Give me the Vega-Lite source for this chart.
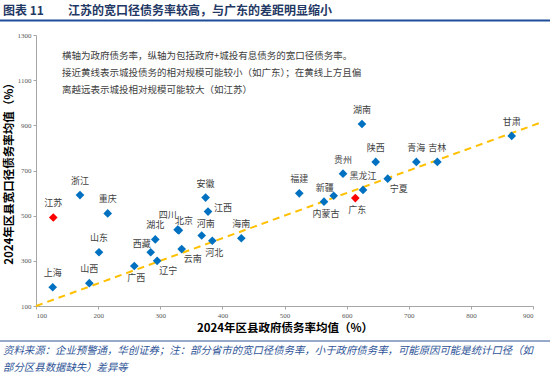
{
  "$schema": "https://vega.github.io/schema/vega-lite/v6.json",
  "width": 497,
  "height": 271,
  "autosize": {"type": "none"},
  "padding": {"left": 36, "top": 35, "right": 17, "bottom": 74},
  "background": "white",
  "title": {
    "text": "图表 11\u3000\u3000江苏的宽口径债务率较高，与广东的差距明显缩小",
    "anchor": "start",
    "frame": "group",
    "dx": -33,
    "offset": 2,
    "font": "Noto Sans CJK SC",
    "fontSize": 12,
    "fontWeight": "bold",
    "color": "#1F3864"
  },
  "config": {
    "view": {"stroke": null},
    "font": "Noto Sans CJK SC",
    "axis": {
      "grid": false,
      "labelFont": "Liberation Serif",
      "labelFontSize": 7,
      "labelColor": "#595959",
      "tickColor": "#a6a6a6",
      "domainColor": "#a6a6a6",
      "tickSize": 3,
      "format": "d",
      "titleFont": "Noto Sans CJK SC",
      "titleFontSize": 11.5,
      "titleFontWeight": "bold",
      "titleColor": "#000000"
    }
  },
  "datasets": {
    "pts": [
      {"name": "江苏", "gov": 127.8, "wide": 492},
      {"name": "浙江", "gov": 170.8, "wide": 591},
      {"name": "重庆", "gov": 215.4, "wide": 510},
      {"name": "山东", "gov": 201.4, "wide": 338},
      {"name": "上海", "gov": 126.9, "wide": 183},
      {"name": "山西", "gov": 185.8, "wide": 201},
      {"name": "广西", "gov": 258.2, "wide": 277},
      {"name": "西藏", "gov": 284.6, "wide": 338},
      {"name": "湖北", "gov": 292, "wide": 395},
      {"name": "辽宁", "gov": 295, "wide": 300},
      {"name": "四川", "gov": 328, "wide": 438},
      {"name": "北京", "gov": 330, "wide": 435},
      {"name": "云南", "gov": 334.5, "wide": 352},
      {"name": "安徽", "gov": 373, "wide": 580},
      {"name": "江西", "gov": 376.9, "wide": 518},
      {"name": "河南", "gov": 366.7, "wide": 412},
      {"name": "河北", "gov": 383.8, "wide": 389},
      {"name": "海南", "gov": 430.5, "wide": 400},
      {"name": "湖南", "gov": 624.7, "wide": 906},
      {"name": "甘肃", "gov": 865.7, "wide": 853},
      {"name": "陕西", "gov": 646.8, "wide": 738},
      {"name": "青海", "gov": 712.2, "wide": 738},
      {"name": "吉林", "gov": 746, "wide": 738},
      {"name": "贵州", "gov": 594.2, "wide": 686},
      {"name": "宁夏", "gov": 666.1, "wide": 664},
      {"name": "黑龙江", "gov": 626.4, "wide": 614},
      {"name": "广东", "gov": 614, "wide": 578},
      {"name": "福建", "gov": 523.8, "wide": 599},
      {"name": "新疆", "gov": 579.2, "wide": 588},
      {"name": "内蒙古", "gov": 563.6, "wide": 562}
    ],
    "diag": [{"gov": 100, "wide": 100}, {"gov": 915, "wide": 915}]
  },
  "layer": [
    {
      "data": {"name": "diag"},
      "mark": {"type": "line", "color": "#FFC000", "strokeWidth": 2, "strokeDash": [7, 5]},
      "encoding": {
        "x": {
          "field": "gov", "type": "quantitative",
          "scale": {"domain": [100, 900], "nice": false, "zero": false},
          "axis": {"values": [100, 200, 300, 400, 500, 600, 700, 800, 900], "title": "2024年区县政府债务率均值（%）", "titlePadding": 4}
        },
        "y": {
          "field": "wide", "type": "quantitative",
          "scale": {"domain": [100, 1300], "nice": false, "zero": false},
          "axis": {"values": [100, 300, 500, 700, 900, 1100, 1300], "title": "2024年区县宽口径债务率均值（%）", "titlePadding": 3}
        }
      }
    },
    {
      "data": {"name": "pts"},
      "mark": {"type": "point", "shape": "diamond", "filled": true, "size": 75, "opacity": 1},
      "encoding": {
        "x": {"field": "gov", "type": "quantitative"},
        "y": {"field": "wide", "type": "quantitative"},
        "color": {
          "condition": {"test": "datum.name === '江苏' || datum.name === '广东'", "value": "#FF0000"},
          "value": "#0070C0"
        }
      }
    },
    {
      "data": {"name": "pts"},
      "transform": [{"filter": {"field": "name", "oneOf": ["江苏", "浙江", "重庆", "山东", "上海", "山西", "湖北", "安徽", "海南", "湖南", "甘肃", "陕西", "青海", "吉林", "贵州", "福建", "黑龙江"]}}],
      "mark": {"type": "text", "dy": -14, "fontSize": 9, "color": "#404040"},
      "encoding": {
        "x": {"field": "gov", "type": "quantitative"},
        "y": {"field": "wide", "type": "quantitative"},
        "text": {"field": "name"}
      }
    },
    {
      "data": {"name": "pts"},
      "transform": [{"filter": {"field": "name", "oneOf": ["河南"]}}],
      "mark": {"type": "text", "dy": -12, "dx": 4, "fontSize": 9, "color": "#404040"},
      "encoding": {
        "x": {"field": "gov", "type": "quantitative"},
        "y": {"field": "wide", "type": "quantitative"},
        "text": {"field": "name"}
      }
    },
    {
      "data": {"name": "pts"},
      "transform": [{"filter": {"field": "name", "oneOf": ["广西", "河北", "内蒙古", "广东"]}}],
      "mark": {"type": "text", "dy": 12, "dx": 2, "fontSize": 9, "color": "#404040"},
      "encoding": {
        "x": {"field": "gov", "type": "quantitative"},
        "y": {"field": "wide", "type": "quantitative"},
        "text": {"field": "name"}
      }
    },
    {
      "data": {"name": "pts"},
      "transform": [{"filter": {"field": "name", "oneOf": ["辽宁", "云南", "宁夏"]}}],
      "mark": {"type": "text", "dy": 10, "dx": 11, "fontSize": 9, "color": "#404040"},
      "encoding": {
        "x": {"field": "gov", "type": "quantitative"},
        "y": {"field": "wide", "type": "quantitative"},
        "text": {"field": "name"}
      }
    },
    {
      "data": {"name": "pts"},
      "transform": [{"filter": {"field": "name", "oneOf": ["西藏", "新疆"]}}],
      "mark": {"type": "text", "dy": -8, "dx": -9, "fontSize": 9, "color": "#404040"},
      "encoding": {
        "x": {"field": "gov", "type": "quantitative"},
        "y": {"field": "wide", "type": "quantitative"},
        "text": {"field": "name"}
      }
    },
    {
      "data": {"name": "pts"},
      "transform": [{"filter": {"field": "name", "oneOf": ["江西"]}}],
      "mark": {"type": "text", "dy": -4, "dx": 15, "fontSize": 9, "color": "#404040"},
      "encoding": {
        "x": {"field": "gov", "type": "quantitative"},
        "y": {"field": "wide", "type": "quantitative"},
        "text": {"field": "name"}
      }
    },
    {
      "data": {"name": "pts"},
      "transform": [{"filter": {"field": "name", "oneOf": ["四川"]}}],
      "mark": {"type": "text", "dy": -15, "dx": -10, "fontSize": 9, "color": "#404040"},
      "encoding": {
        "x": {"field": "gov", "type": "quantitative"},
        "y": {"field": "wide", "type": "quantitative"},
        "text": {"field": "name"}
      }
    },
    {
      "data": {"name": "pts"},
      "transform": [{"filter": {"field": "name", "oneOf": ["北京"]}}],
      "mark": {"type": "text", "dy": -9, "dx": 5, "fontSize": 9, "color": "#404040"},
      "encoding": {
        "x": {"field": "gov", "type": "quantitative"},
        "y": {"field": "wide", "type": "quantitative"},
        "text": {"field": "name"}
      }
    },
    {
      "data": {"values": [{}]},
      "mark": {
        "type": "text",
        "text": "横轴为政府债务率，纵轴为包括政府+城投有息债务的宽口径债务率。\n接近黄线表示城投债务的相对规模可能较小（如广东）；在黄线上方且偏\n离越远表示城投相对规模可能较大（如江苏）",
        "lineBreak": "\n",
        "lineHeight": 17,
        "align": "left",
        "baseline": "middle",
        "fontSize": 9.5,
        "color": "#404040"
      },
      "encoding": {
        "x": {"datum": 142, "type": "quantitative"},
        "y": {"datum": 1208, "type": "quantitative"}
      }
    },
    {
      "data": {"values": [{}]},
      "mark": {
        "type": "text",
        "text": "资料来源：企业预警通，华创证券；注：部分省市的宽口径债务率，小于政府债务率，可能原因可能是统计口径（如\n部分区县数据缺失）差异等",
        "lineBreak": "\n",
        "lineHeight": 17,
        "align": "left",
        "baseline": "top",
        "fontSize": 10.4,
        "fontStyle": "italic",
        "color": "#2F5597"
      },
      "encoding": {
        "x": {"datum": 47, "type": "quantitative"},
        "y": {"datum": -77, "type": "quantitative"}
      }
    },
    {
      "data": {"values": [{}]},
      "mark": {"type": "rule", "color": "#1F4E9A", "strokeWidth": 2},
      "encoding": {
        "x": {"datum": 42, "type": "quantitative"},
        "x2": {"datum": 928},
        "y": {"datum": 1364, "type": "quantitative"}
      }
    },
    {
      "data": {"values": [{}]},
      "mark": {"type": "rule", "color": "#2F5597", "strokeWidth": 1},
      "encoding": {
        "x": {"datum": 42, "type": "quantitative"},
        "x2": {"datum": 928},
        "y": {"datum": -55, "type": "quantitative"}
      }
    }
  ]
}
